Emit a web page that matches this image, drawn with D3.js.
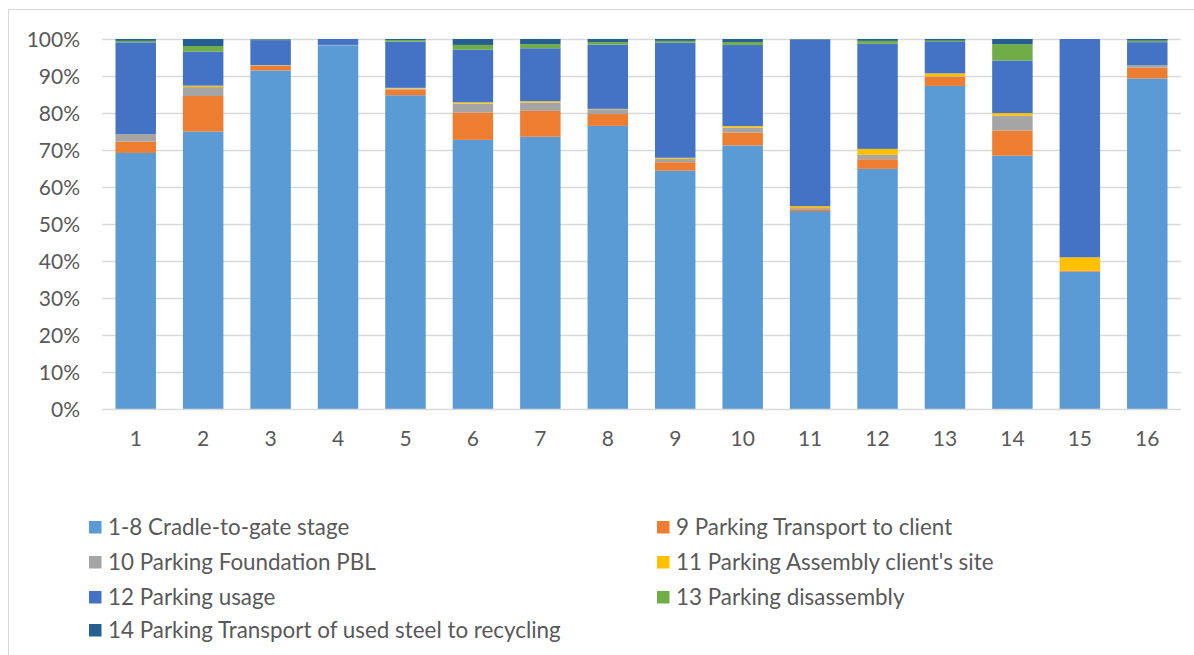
<!DOCTYPE html>
<html><head><meta charset="utf-8">
<script src="https://cdn.jsdelivr.net/npm/d3@7"></script>
<style>body{margin:0;background:#fff;} text{font-family:Lato,"Open Sans",sans-serif;}</style>
</head><body><svg id="chart" width="1194" height="655"></svg>
<script>
const categories = ["1","2","3","4","5","6","7","8","9","10","11","12","13","14","15","16"];
const seriesNames = ["1-8 Cradle-to-gate stage","9 Parking Transport to client","10 Parking Foundation PBL","11 Parking Assembly client's site","12 Parking usage","13 Parking disassembly","14 Parking Transport of used steel to recycling"];
const cradleToGate   = [69.2, 75.0, 91.6, 98.3, 84.8, 72.7, 73.5, 76.6, 64.4, 71.2, 53.5, 64.9, 87.4, 68.4, 37.1, 89.3];
const transport      = [ 3.1,  9.6,  1.2,  0.0,  1.5,  7.4,  7.0,  3.2,  2.3,  3.5,  0.5,  2.6,  2.5,  6.8,  0.3,  2.9];
const foundation     = [ 1.8,  2.4,  0.1,  0.1,  0.3,  2.4,  2.25, 1.3,  0.9,  1.35, 0.3,  1.2,  0.1,  4.0,  0.0,  0.5];
const assembly       = [ 0.1,  0.4,  0.1,  0.0,  0.2,  0.35, 0.35, 0.1,  0.3,  0.4,  0.5,  1.6,  0.8,  0.7,  3.6,  0.1];
const usage          = [24.9,  9.2,  6.8,  1.6, 12.5, 14.2, 14.3, 17.4, 31.1, 21.9, 45.0, 28.4,  8.5, 14.2, 59.0,  6.3];
const disassembly    = [ 0.4,  1.5,  0.2,  0.0,  0.4,  1.3,  1.1,  0.7,  0.5,  0.8,  0.1,  0.8,  0.35, 4.4,  0.0,  0.4];
const steelTransport = [ 0.5,  1.9,  0.1,  0.0,  0.3,  1.6,  1.4,  0.8,  0.5,  0.8,  0.1,  0.5,  0.45, 1.4,  0.0,  0.45];
const yTicks = [0,10,20,30,40,50,60,70,80,90,100];
const colors = ["#5B9BD5","#ED7D31","#A5A5A5","#FFC000","#4472C4","#70AD47","#255E91"];

const seriesArrays = [cradleToGate, transport, foundation, assembly, usage, disassembly, steelTransport];
const keys = seriesNames;
const rows = categories.map((c,i)=>{
  const r = {cat:c};
  let tot = 0; seriesArrays.forEach(a=>tot+=a[i]);
  keys.forEach((k,j)=> r[k] = seriesArrays[j][i] / tot * 100);
  return r;
});

const svg = d3.select("#chart");
// outer chart border
svg.append("rect").attr("x",8.5).attr("y",9.5).attr("width",1300).attr("height",800)
  .attr("fill","none").attr("stroke","#d9d9d9").attr("stroke-width",1);

const x = d3.scaleBand().domain(categories).range([102,1181]).paddingInner(0.4).paddingOuter(0.2);
const y = d3.scaleLinear().domain([0,100]).range([409,39]);

// gridlines
svg.append("g").selectAll("line").data(yTicks.filter(t=>t>0)).join("line")
  .attr("x1",102).attr("x2",1181).attr("y1",d=>y(d)+0.5).attr("y2",d=>y(d)+0.5)
  .attr("stroke","#d9d9d9").attr("stroke-width",1.3);

const stack = d3.stack().keys(keys)(rows);
svg.append("g").selectAll("g").data(stack).join("g").attr("fill",(d,i)=>colors[i])
  .selectAll("rect").data(d=>d).join("rect")
  .attr("x",d=>x(d.data.cat)).attr("width",x.bandwidth())
  .attr("y",d=>y(d[1])).attr("height",d=>Math.max(0,y(d[0])-y(d[1])));

// baseline
svg.append("line").attr("x1",102).attr("x2",1181).attr("y1",409.5).attr("y2",409.5)
  .attr("stroke","#d9d9d9").attr("stroke-width",1.3);

// y axis
const yAxis = d3.axisLeft(y).tickValues(yTicks).tickFormat(d=>d+"%").tickSize(0).tickPadding(0);
const gy = svg.append("g").attr("transform","translate(80,0)").call(yAxis);
gy.select(".domain").remove();
gy.selectAll("text").attr("font-size",21).attr("fill","#595959").attr("font-family","Lato,'Open Sans',sans-serif").attr("dy","0.35em");

// x axis
const xAxis = d3.axisBottom(x).tickSize(0).tickPadding(0);
const gx = svg.append("g").attr("transform","translate(0,431)").call(xAxis);
gx.select(".domain").remove();
gx.selectAll("text").attr("font-size",21).attr("fill","#595959").attr("font-family","Lato,'Open Sans',sans-serif");

// legend
const legendPos = [[89,527],[657,527],[89,562],[657,562],[89,597],[657,597],[89,630]];
const lg = svg.append("g").selectAll("g").data(keys).join("g")
  .attr("transform",(d,i)=>`translate(${legendPos[i][0]},${legendPos[i][1]})`);
lg.append("rect").attr("x",0).attr("y",-6).attr("width",12.5).attr("height",12.5).attr("fill",(d,i)=>colors[i]);
lg.append("text").attr("x",19).attr("y",0).attr("dy","0.35em").attr("font-size",22.4).attr("fill","#595959").text(d=>d);
</script></body></html>
